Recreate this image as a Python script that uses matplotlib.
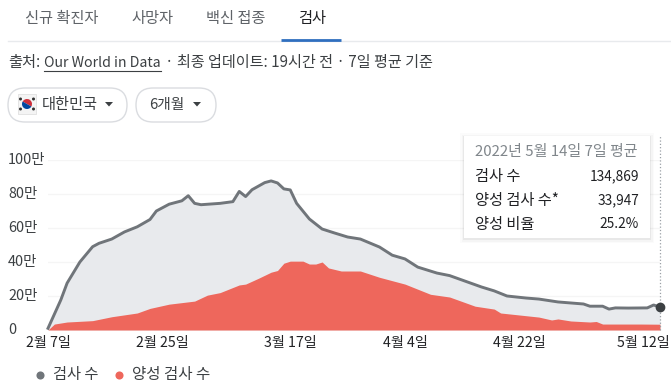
"""Korean COVID testing card: area chart with tabs, filters and tooltip."""
import matplotlib
matplotlib.use("Agg")
import matplotlib.pyplot as plt
from matplotlib.patches import Circle, FancyBboxPatch, Rectangle, Wedge
from matplotlib.transforms import ScaledTranslation

plt.rcParams["font.family"] = ["Noto Sans CJK KR", "DejaVu Sans"]

# days since Feb 7, values in units of 10,000 (만)
total_days = [0, 2, 3, 5, 7, 8, 10, 12, 14, 16, 17, 19, 21, 22, 23, 24, 27, 29, 30, 31, 32, 34, 35, 36,
              37, 38, 39, 41, 43, 45, 47, 49, 52, 54, 56, 58, 61, 63, 68, 70, 72, 75, 77, 80, 82, 84,
              85, 87, 88, 89, 91, 94, 95, 96]
total_vals = [1, 17.6, 27.6, 40, 49, 51, 53.5, 57.7, 60.7, 65, 70, 74, 76, 79, 74.5, 73.7, 74.5, 75.5,
              81.5, 78.5, 82.5, 86.7, 87.7, 86.5, 83, 82.4, 74.5, 65.3, 59.4, 57, 54.7, 53.5, 48.8,
              44, 41.8, 37, 33.5, 32, 25.3, 23, 20, 18.8, 18.2, 16.5, 15.9, 15.3, 14, 14, 12.3, 13,
              12.9, 13, 14.7, 13.5]
pos_days = [0, 1, 3, 7, 10, 14, 16, 19, 23, 25, 27, 28, 30, 31, 33, 35, 36, 37, 38, 40, 41, 42, 43, 44,
            46, 49, 52, 56, 58, 60, 63, 67, 70, 71, 74, 77, 79, 80, 82, 85, 86, 87, 93, 96]
pos_vals = [0, 3.5, 4.7, 5.5, 7.8, 10, 12.7, 15.2, 17, 20.5, 22, 23.5, 26.5, 27, 30.4, 34, 35, 39.3,
            40.5, 40.5, 38.8, 38.8, 40, 36.5, 34.7, 34.7, 31, 27, 24, 21, 19.4, 14, 12.3, 10, 8.8,
            7.6, 5.9, 6.5, 5.3, 4.7, 5, 3.5, 3.5, 3.4]

y_ticks = [0, 20, 40, 60, 80, 100]
y_labels = ["0", "20만", "40만", "60만", "80만", "100만"]
x_ticks = [0, 18, 38, 56, 74, 94]
x_labels = ["2월 7일", "2월 25일", "3월 17일", "4월 4일", "4월 22일", "5월 12일"]

tabs = [("신규 확진자", 25), ("사망자", 131), ("백신 접종", 206), ("검사", 298)]
tooltip_rows = [("검사 수", "134,869"), ("양성 검사 수*", "33,947"), ("양성 비율", "25.2%")]

W, H = 671, 390
DARK = "#202124"
TEXT = "#3c4043"
GREY = "#5f6368"
LINE = "#70757a"
AREA = "#e8eaed"
RED = "#ee675c"

fig = plt.figure(figsize=(W / 100, H / 100), dpi=100, facecolor="white")

# ---- Chart ----
ax = fig.add_axes([48 / W, 1 - 330 / H, 612 / W, 170 / H])
ax.set_xlim(0, 96)
ax.set_ylim(0, 100)
ax.fill_between(total_days, total_vals, 0, color=AREA, linewidth=0, zorder=2)
ax.fill_between(pos_days, pos_vals, 0, color=RED, linewidth=0, zorder=3)
ax.plot(total_days, total_vals, color=LINE, linewidth=2.1, zorder=4, clip_on=False, solid_joinstyle="round")
ax.plot([96, 96], [0, 115], color="#9aa0a6", linewidth=0.9, linestyle=":", zorder=5, clip_on=False)
ax.plot(total_days[-1], total_vals[-1], "o", color=TEXT, markersize=6, zorder=6, clip_on=False)
ax.grid(axis="y", color="#f5f5f5", linewidth=1)
ax.set_axisbelow(True)
for spine in ax.spines.values():
    spine.set_visible(False)
ax.set_xticks(x_ticks, x_labels, fontsize=10.2, color=DARK)
ax.set_yticks(y_ticks, [])
ax.tick_params(axis="x", length=0, pad=4)
ax.tick_params(axis="y", length=0)
# nudge the last date label so it stays inside the card
last = ax.get_xticklabels()[-1]
last.set_transform(last.get_transform() + ScaledTranslation(-4 / 100, 0, fig.dpi_scale_trans))
# y labels are left aligned at the card margin
for val, lab in zip(y_ticks, y_labels):
    ax.text(-40 / 612, val, lab, transform=ax.get_yaxis_transform(), ha="left", va="center",
            fontsize=10.4, color=TEXT, clip_on=False)

# ---- UI layer, in pixel coordinates ----
ui = fig.add_axes([0, 0, 1, 1], zorder=10)
ui.set_xlim(0, W)
ui.set_ylim(H, 0)
ui.axis("off")

for i, (name, x) in enumerate(tabs):
    ui.text(x, 18, name, fontsize=11, va="center", color=DARK if i == 3 else GREY)
ui.plot([8, W], [41, 41], color="#e8eaed", linewidth=1)
ui.plot([281, 341], [40, 40], color="#2f6fbf", linewidth=2, solid_capstyle="butt")

ui.text(8, 63, "출처:", fontsize=11, va="center", color=TEXT)
ui.text(44, 63, "Our World in Data", fontsize=10.2, va="center", color=TEXT)
ui.plot([44, 161], [71, 71], color=TEXT, linewidth=0.8)
ui.text(165, 63, "· 최종 업데이트: 19시간 전 · 7일 평균 기준", fontsize=10.9, va="center", color=TEXT)


def pill(x0, x1, y0=88, y1=122):
    r = (y1 - y0) / 2
    ui.add_patch(FancyBboxPatch((x0 + r, y0 + r), x1 - x0 - 2 * r, 0,
                                boxstyle=f"round,pad={r},rounding_size={r}", fc="white", ec="#dadce0", lw=1))


def caret(x, y=104):
    ui.fill([x - 4, x + 4, x], [y - 2, y - 2, y + 2.5], color=TEXT, linewidth=0)


pill(8, 127)
pill(136, 216)
ui.add_patch(Rectangle((18, 94), 18, 20, fc="#f4f4f4", ec="#e0e0e0", lw=0.6))
ui.add_patch(Wedge((27, 104), 5, 180 + 30, 30, fc="#cd2e3a", lw=0))
ui.add_patch(Wedge((27, 104), 5, 30, 180 + 30, fc="#0047a0", lw=0))
for fx, fy in [(20.5, 99), (33.5, 99), (20.5, 109), (33.5, 109)]:
    ui.add_patch(Circle((fx, fy), 1.5, fc="#333333", lw=0))
ui.text(42, 105, "대한민국", fontsize=11, va="center", color=TEXT)
caret(109)
ui.text(149, 105, "6개월", fontsize=10.6, va="center", color=TEXT)
caret(197)

# tooltip with a soft shadow
for grow, alpha in [(4, 0.015), (2.5, 0.025), (1, 0.05)]:
    ui.add_patch(Rectangle((464 - grow, 136 - grow + 1), 186 + 2 * grow, 102 + 2 * grow,
                           fc="black", alpha=alpha, lw=0))
ui.add_patch(Rectangle((464, 136), 186, 102, fc="white", lw=0))
ui.text(475, 152, "2022년 5월 14일 7일 평균", fontsize=10.8, va="center", color="#80868b")
for (name, value), y in zip(tooltip_rows, [176, 200, 224]):
    ui.text(475, y, name, fontsize=11, va="center", color=DARK)
    ui.text(639, y, value, fontsize=9.9, va="center", ha="right", color=DARK)

# legend
ui.scatter([40], [375], s=34, color=LINE, lw=0)
ui.text(53, 374, "검사 수", fontsize=11, va="center", color=TEXT)
ui.scatter([119], [375], s=34, color=RED, lw=0)
ui.text(132, 374, "양성 검사 수", fontsize=11.2, va="center", color=TEXT)

fig.savefig("out.png", dpi=100, facecolor="white")
plt.close(fig)
